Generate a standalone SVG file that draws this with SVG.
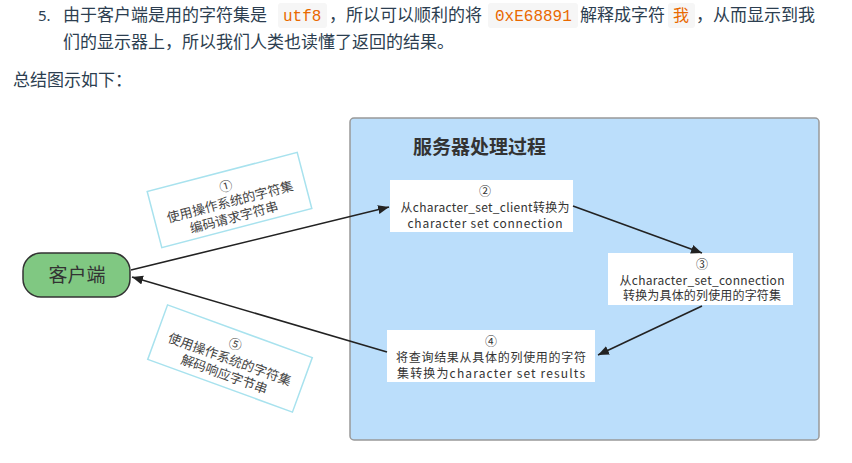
<svg xmlns="http://www.w3.org/2000/svg" width="852" height="463" viewBox="0 0 852 463">
<defs>
<style>
.p{font-family:'Noto Sans CJK SC','Noto Sans',sans-serif;font-size:17px;fill:#2c3e50}
.code{font-family:'Liberation Mono',monospace;font-size:16px;fill:#e96900}
.cbg{fill:#f6f6f6}
.t{font-family:'Noto Sans CJK SC','Noto Sans',sans-serif;font-size:12px;fill:#333;text-anchor:middle}
.lt{font-family:'Noto Sans CJK SC','Noto Sans',sans-serif;font-size:13px;fill:#444;text-anchor:middle}
.box{fill:#fff;stroke:none}
.lbl{fill:#fff;stroke:#a8e2ee;stroke-width:1.5}
.con{stroke:#222;stroke-width:1.6;fill:none;marker-end:url(#ah)}
</style>
<marker id="ah" markerUnits="userSpaceOnUse" markerWidth="12" markerHeight="10" refX="11" refY="4.5" orient="auto">
<path d="M0,0 L11,4.5 L0,9 Z" fill="#222"/>
</marker>
</defs>
<rect width="852" height="463" fill="#fff"/>

<g id="intro">
<text class="p" x="38" y="21" style="font-family:'Noto Sans','Noto Sans CJK SC',sans-serif;font-size:15px">5.</text>
<text class="p" x="63" y="21">由于客户端是用的字符集是</text>
<rect class="cbg" x="278" y="3" width="49" height="25" rx="3"/>
<text class="code" x="283" y="21">utf8</text>
<text class="p" x="329" y="21">，所以可以顺利的将</text>
<rect class="cbg" x="488" y="3" width="90" height="25" rx="3"/>
<text class="code" x="495" y="21">0xE68891</text>
<text class="p" x="580" y="21">解释成字符</text>
<rect class="cbg" x="668" y="3" width="27" height="25" rx="3"/>
<text class="p" x="673" y="21" style="fill:#e96900;font-size:16px">我</text>
<text class="p" x="696" y="21">，从而显示到我</text>
<text class="p" x="63" y="48">们的显示器上，所以我们人类也读懂了返回的结果。</text>
<text class="p" x="13" y="86">总结图示如下：</text>
</g>

<g id="server">
<rect x="350" y="118" width="469" height="322" rx="4" fill="#bbdefb" stroke="#999" stroke-width="1.5"/>
<text x="413" y="154" style="font-family:'Noto Sans CJK SC','Noto Sans',sans-serif;font-size:19px;font-weight:bold;fill:#333">服务器处理过程</text>
</g>

<g id="client">
<rect x="23" y="253" width="107" height="44" rx="18" fill="#80c882" stroke="#333" stroke-width="1.5"/>
<text x="77" y="282" style="font-family:'Noto Sans CJK SC','Noto Sans',sans-serif;font-size:19px;fill:#333;text-anchor:middle">客户端</text>
</g>

<g id="step2">
<rect class="box" x="390" y="180" width="183" height="52"/>
<text class="t" x="485" y="196">②</text>
<text class="t" x="485" y="212" textLength="169" lengthAdjust="spacing">从character_set_client转换为</text>
<text class="t" x="485" y="228" textLength="155" lengthAdjust="spacing">character set connection</text>
</g>

<g id="step3">
<rect class="box" x="608" y="253" width="185" height="52"/>
<text class="t" x="702" y="269">③</text>
<text class="t" x="702" y="284.5" textLength="165" lengthAdjust="spacing">从character_set_connection</text>
<text class="t" x="702" y="300" textLength="158" lengthAdjust="spacing">转换为具体的列使用的字符集</text>
</g>

<g id="step4">
<rect class="box" x="387" y="330" width="208" height="52"/>
<text class="t" x="491" y="346">④</text>
<text class="t" x="491" y="362" textLength="190" lengthAdjust="spacing">将查询结果从具体的列使用的字符</text>
<text class="t" x="491" y="377.5" textLength="188" lengthAdjust="spacing">集转换为character set results</text>
</g>

<g id="connectors">
<line class="con" x1="131" y1="270" x2="389" y2="207"/>
<line class="con" x1="573" y1="206" x2="702" y2="253"/>
<line class="con" x1="702" y1="306" x2="598" y2="355"/>
<line class="con" x1="387" y1="352" x2="132" y2="277"/>
</g>

<g id="label1" transform="translate(229.5,200) rotate(-14.6)">
<rect class="lbl" x="-77.5" y="-29" width="155" height="58"/>
<text class="lt" x="0" y="-9.5">①</text>
<text class="lt" x="0" y="6.5">使用操作系统的字符集</text>
<text class="lt" x="0" y="22.5">编码请求字符串</text>
</g>

<g id="label5" transform="translate(230,358.5) rotate(20)">
<rect class="lbl" x="-77" y="-29" width="154" height="58"/>
<text class="lt" x="0" y="-10.5">⑤</text>
<text class="lt" x="0" y="5.5">使用操作系统的字符集</text>
<text class="lt" x="0" y="21.5">解码响应字节串</text>
</g>
</svg>
